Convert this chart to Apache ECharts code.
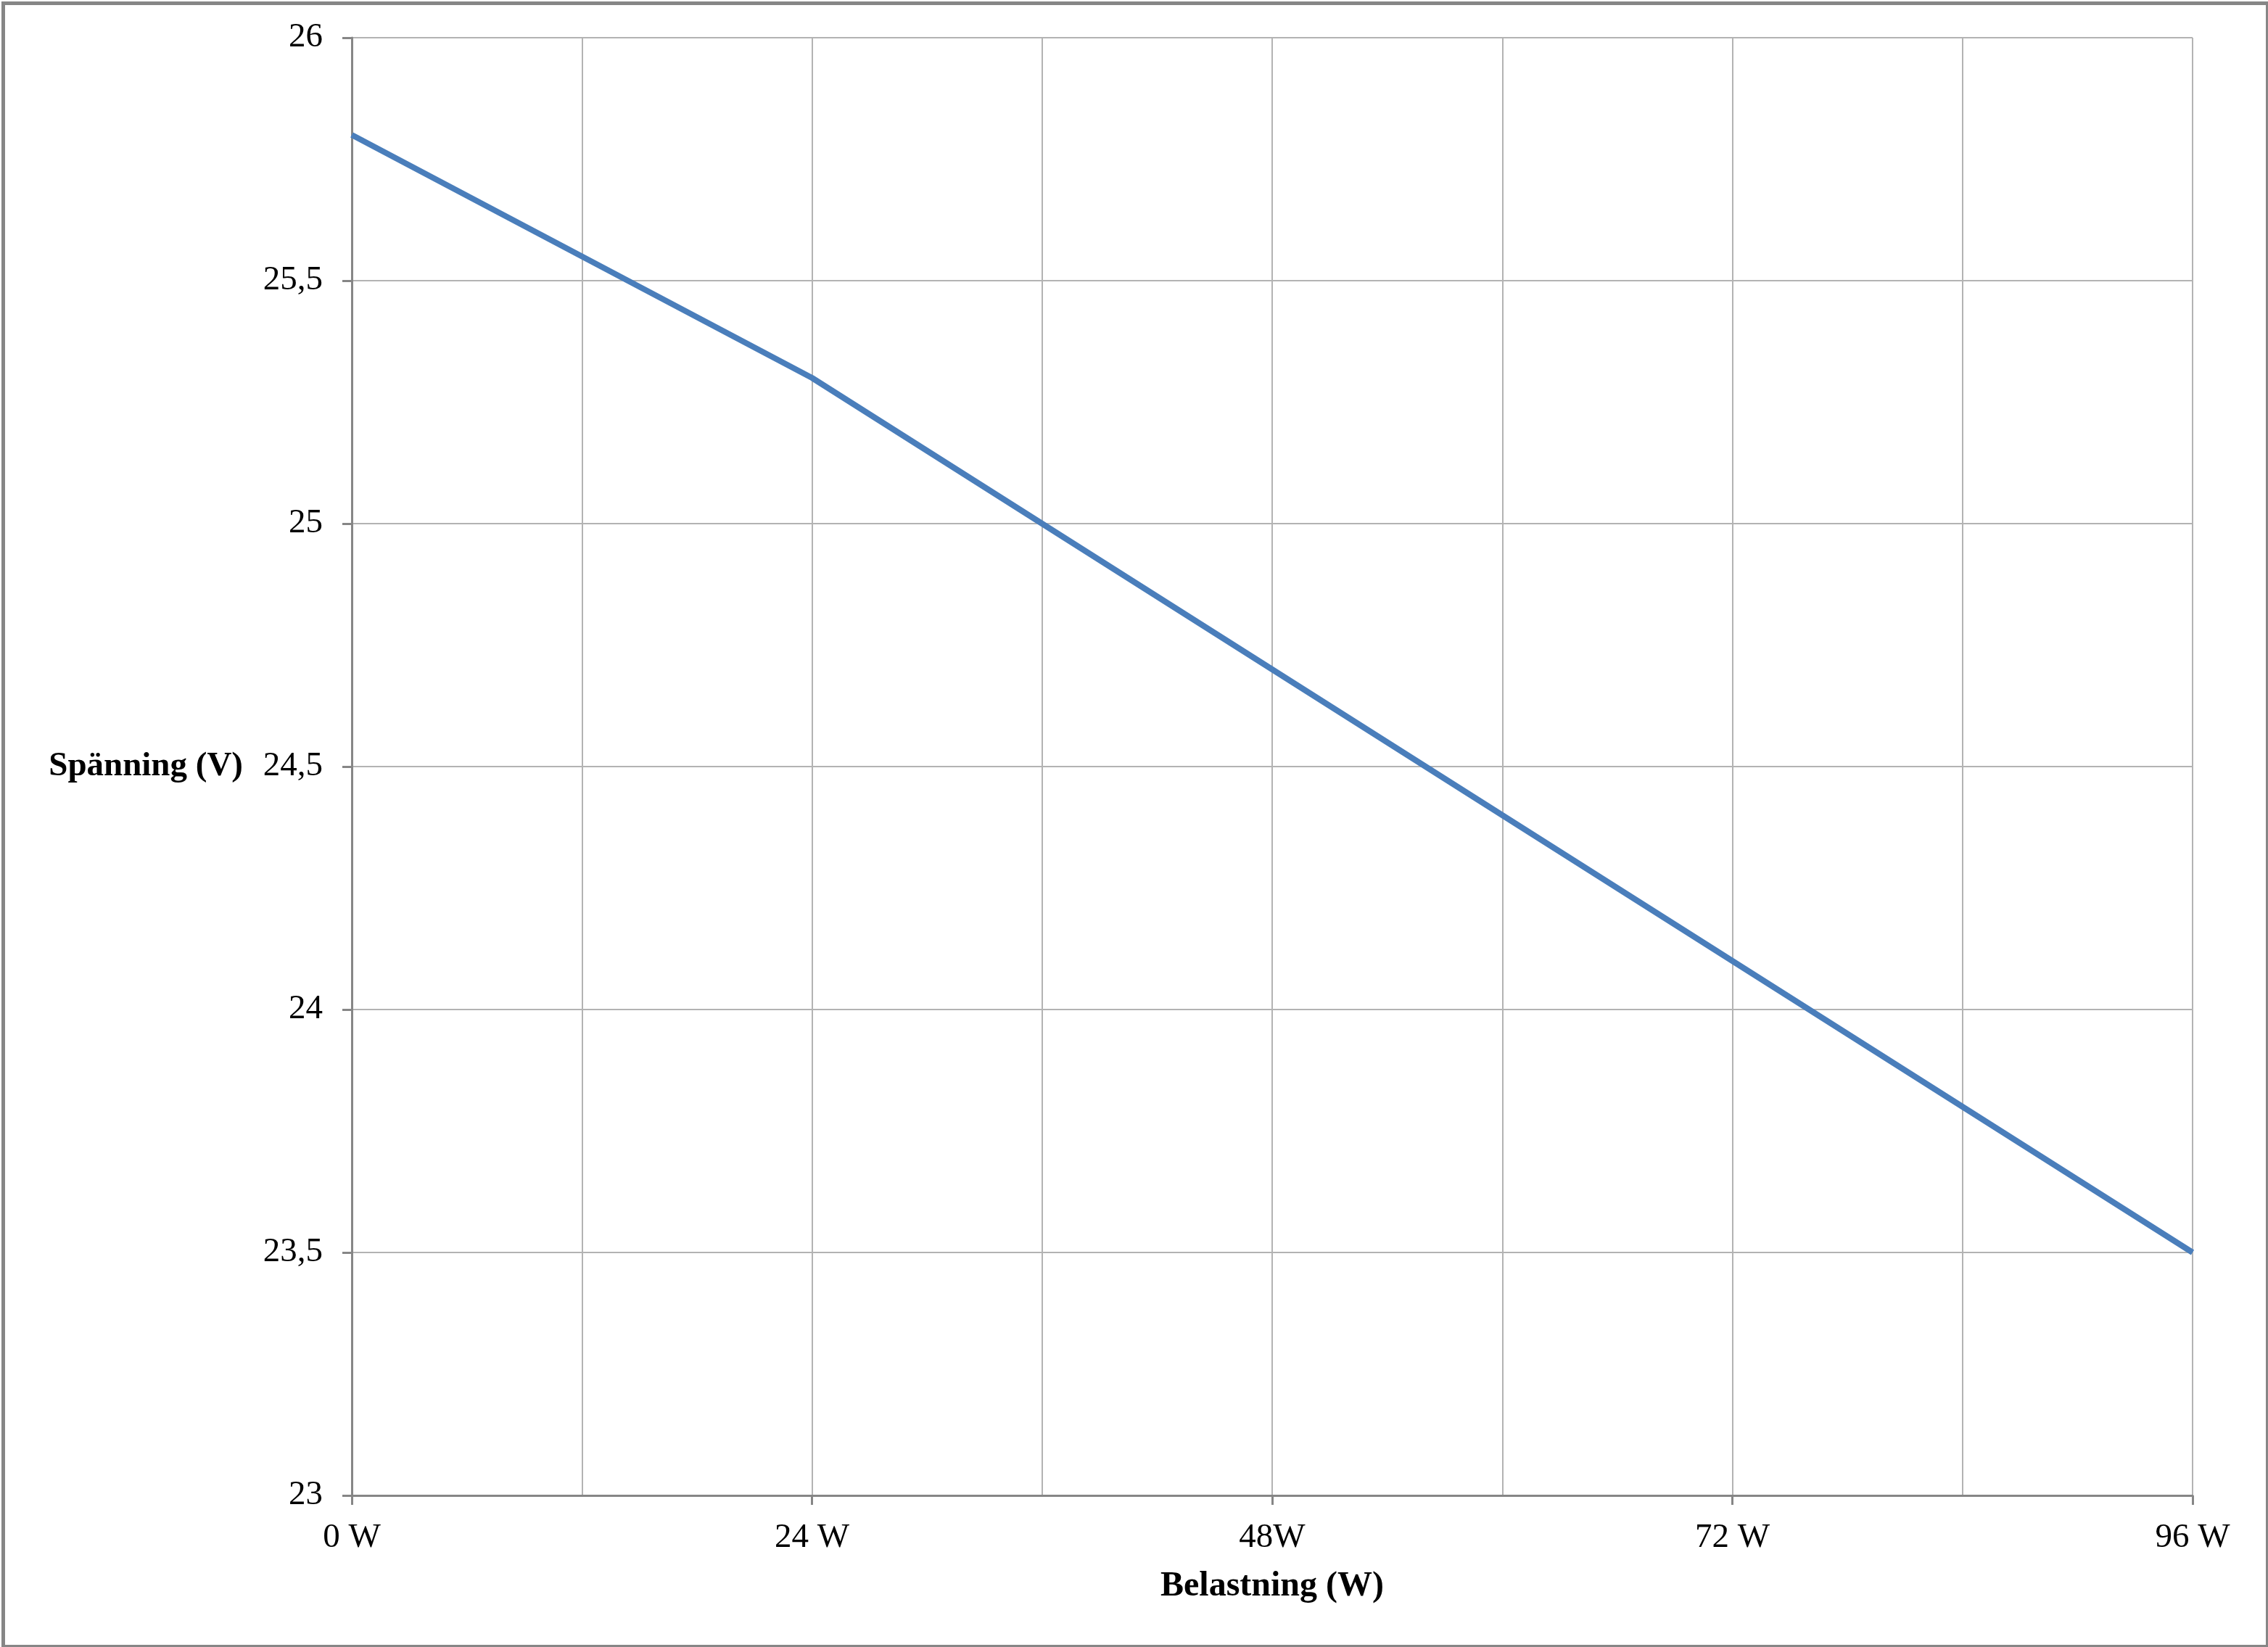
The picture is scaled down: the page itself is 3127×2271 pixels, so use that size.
<!DOCTYPE html>
<html>
<head>
<meta charset="utf-8">
<script src="https://cdn.jsdelivr.net/npm/echarts@6/dist/echarts.min.js"></script>
<style>
html,body{margin:0;padding:0;background:#fff;}
#chart{width:3127px;height:2271px;}
</style>
</head>
<body>
<div id="chart"></div>
<script>
const categories = ['0 W', '', '24 W', '', '48W', '', '72 W', '', '96 W'];
const voltage = [25.8, 25.55, 25.3, 25.0, 24.7, 24.4, 24.1, 23.8, 23.5];
const yTicks = { min: 23, max: 26, interval: 0.5 };
const xTitle = 'Belastning (W)';
const yTitle = 'Spänning (V)';

const FONT = '"Liberation Serif", "DejaVu Serif", serif';
const chart = echarts.init(document.getElementById('chart'), null, { renderer: 'canvas' });
chart.setOption({
  backgroundColor: '#ffffff',
  animation: false,
  graphic: [{
    type: 'rect', left: 2, top: 2,
    shape: { x: 0, y: 0, width: 3122, height: 2266 },
    style: { fill: 'none', stroke: '#868686', lineWidth: 5 },
    silent: true
  }],
  grid: { left: 485, right: 104, top: 52, bottom: 209, containLabel: false },
  xAxis: {
    type: 'category',
    data: categories,
    boundaryGap: false,
    name: xTitle,
    nameLocation: 'middle',
    nameGap: 126,
    nameTextStyle: { fontFamily: FONT, fontSize: 48, fontWeight: 'bold', color: '#000', verticalAlign: 'middle' },
    axisLine: { show: true, lineStyle: { color: '#868686', width: 3 } },
    axisTick: { show: true, length: 13, interval: function (i) { return i % 2 === 0; }, lineStyle: { color: '#868686', width: 3 } },
    axisLabel: { interval: 0, margin: 35, fontFamily: FONT, fontSize: 47, color: '#000' },
    splitLine: { show: true, interval: 0, lineStyle: { color: '#b3b3b3', width: 2 } }
  },
  yAxis: {
    type: 'value',
    min: yTicks.min, max: yTicks.max, interval: yTicks.interval,
    name: yTitle,
    nameLocation: 'middle',
    nameRotate: 0,
    nameGap: 150,
    nameTextStyle: { fontFamily: FONT, fontSize: 47, fontWeight: 'bold', color: '#000', align: 'right', verticalAlign: 'middle' },
    axisLine: { show: true, lineStyle: { color: '#868686', width: 3 } },
    axisTick: { show: true, length: 13, lineStyle: { color: '#868686', width: 3 } },
    axisLabel: {
      margin: 40, fontFamily: FONT, fontSize: 47, color: '#000',
      formatter: function (v) { return String(v).replace('.', ','); }
    },
    splitLine: { show: true, lineStyle: { color: '#b3b3b3', width: 2 } }
  },
  series: [{
    type: 'line',
    data: voltage,
    showSymbol: false,
    symbol: 'none',
    lineStyle: { color: '#4a7ebb', width: 8 },
    itemStyle: { color: '#4a7ebb' }
  }]
});
</script>
</body>
</html>
